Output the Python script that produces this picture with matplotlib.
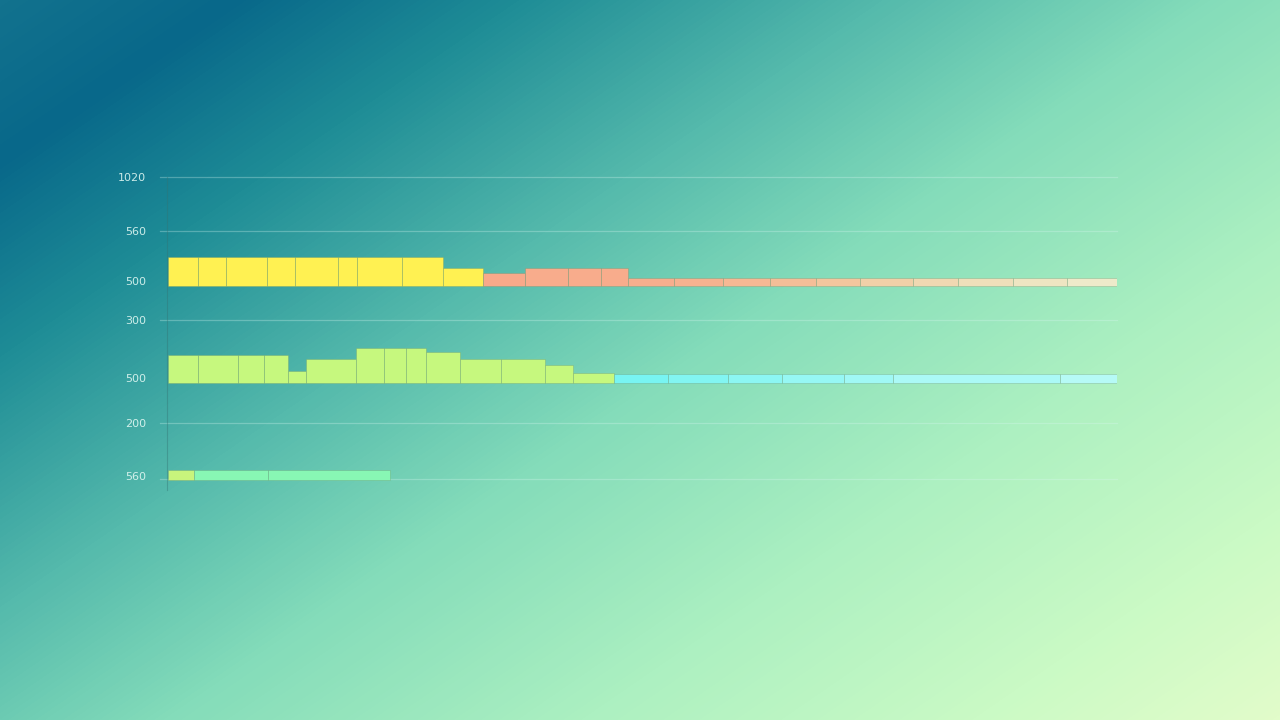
import numpy as np
import matplotlib
matplotlib.use("Agg")
import matplotlib.pyplot as plt
from matplotlib.colors import LinearSegmentedColormap

# ---------------- data ----------------
tick_pos = [315, 261, 211, 172, 114, 69, 16]
tick_labels = ["1020", "560", "500", "300", "500", "200", "560"]
grid_pos = [315, 261, 172, 69, 13]

# band 1 (top)
top_base = 206
top_widths = [30, 28, 41, 28, 43, 19, 45, 41, 40, 42, 43, 33, 27,
              46, 49, 47, 46, 44, 53, 45, 55, 54, 50]
top_heights = [29, 29, 29, 29, 29, 29, 29, 29, 18, 13, 18, 18, 18,
               8, 8, 8, 8, 8, 8, 8, 8, 8, 8]
top_colors = ["#FFF152"] * 9 + ["#F8A98A", "#F8AC8C", "#F8AC8C", "#F8AC8C",
              "#F7AE8E", "#F6B290", "#F6B894", "#F4BE98", "#F3C69E",
              "#F1D0A8", "#F0D8B2", "#EFDFBA", "#EEE5C2", "#EEEACA"]

# band 2 (middle)
mid_base = 109
mid_widths = [30, 40, 26, 24, 18, 50, 28, 22, 20, 34, 41, 44, 28, 41,
              54, 60, 54, 62, 49, 167, 57]
mid_heights = [28, 28, 28, 28, 12, 24, 35, 35, 35, 31, 24, 24, 18, 10,
               9, 9, 9, 9, 9, 9, 9]
mid_colors = ["#C6F87E"] * 14 + ["#78F4F2", "#82F5F2", "#8CF6F3", "#96F7F4",
              "#A0F8F5", "#ABF9F6", "#B6FAF6"]

# band 3 (bottom)
bot_base = 12
bot_widths = [26, 74, 122]
bot_heights = [10, 10, 10]
bot_colors = ["#C8F47C", "#88F7B4", "#88F7B4"]

# ---------------- figure ----------------
W, H = 1280, 720
fig = plt.figure(figsize=(W / 100, H / 100), dpi=100)

# gradient background
bg = fig.add_axes([0, 0, 1, 1])
bg.set_axis_off()
yy, xx = np.mgrid[0:H, 0:W]
t = 0.55 * xx / W + 0.45 * yy / H
stops = [(0.0, (18, 114, 142)), (0.1, (8, 104, 138)), (0.22, (30, 140, 150)),
         (0.38, (85, 186, 172)), (0.52, (132, 220, 186)), (0.7, (172, 240, 193)),
         (0.87, (202, 250, 197)), (1.0, (226, 252, 202))]
cmap = LinearSegmentedColormap.from_list(
    "bg", [(p, tuple(c / 255 for c in col)) for p, col in stops])
bg.imshow(cmap(np.clip(t, 0, 1)), aspect="auto", extent=[0, 1, 0, 1],
          interpolation="bilinear")
bg.set_xlim(0, 1)
bg.set_ylim(0, 1)

# main axes (pixel 167..1117 horizontally, 170..492 vertically)
left, right = 167 / W, 1117 / W
bottom, top = (H - 492) / H, (H - 170) / H
ax = fig.add_axes([left, bottom, right - left, top - bottom])
ax.patch.set_alpha(0)
ax.set_xlim(0, 950)
ax.set_ylim(0, 322)

for g in grid_pos:
    ax.plot([-7, 950], [g, g], color=(0.85, 0.97, 0.95, 0.3), lw=0.9,
            zorder=1, clip_on=False)

edge = (0.4, 0.55, 0.4, 0.28)


def band(widths, heights, colors, base):
    lefts = np.concatenate([[1], 1 + np.cumsum(widths)[:-1]])
    ax.bar(lefts, heights, width=widths, bottom=base, align="edge",
           color=colors, edgecolor=edge, linewidth=0.7, zorder=3)


band(top_widths, top_heights, top_colors, top_base)
band(mid_widths, mid_heights, mid_colors, mid_base)
band(bot_widths, bot_heights, bot_colors, bot_base)

for s in ["top", "right", "bottom"]:
    ax.spines[s].set_visible(False)
ax.spines["left"].set_color((0.2, 0.45, 0.45, 0.4))
ax.spines["left"].set_linewidth(0.8)
ax.spines["left"].set_bounds(2, 315)

ax.set_xticks([])
ax.set_yticks(tick_pos)
ax.set_yticklabels(tick_labels)
ax.tick_params(axis="y", length=0, pad=15, labelsize=8,
               labelcolor=(0.88, 0.97, 0.95, 0.9))

fig.savefig("out.png", dpi=100)
